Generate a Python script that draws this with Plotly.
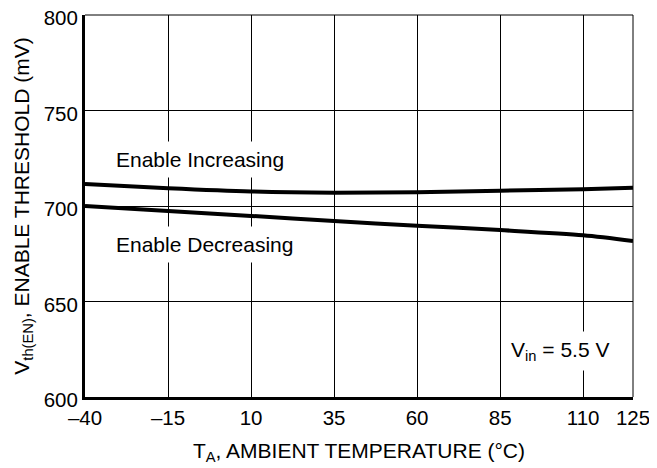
import plotly.graph_objects as go

temps = [-40, -15, 10, 35, 60, 85, 110, 125]
enable_increasing = [711.5, 709.3, 707.6, 707.0, 707.2, 708.0, 708.8, 709.6]
enable_decreasing = [700.0, 697.4, 694.8, 692.1, 689.7, 687.4, 684.7, 681.7]

x_ticks = [-40, -15, 10, 35, 60, 85, 110, 125]
x_ticktext = ["–40", "–15", "10", "35", "60", "85", "110", "125"]
y_ticks = [600, 650, 700, 750, 800]

FONT = "Liberation Sans, Arial, Helvetica, sans-serif"
fs = 21
tfs = 20.5

fig = go.Figure()
for ys in (enable_increasing, enable_decreasing):
    fig.add_trace(go.Scatter(x=temps, y=ys, mode="lines",
                             line=dict(color="black", width=4, shape="spline", smoothing=0.8),
                             showlegend=False, hoverinfo="skip"))

fig.update_layout(
    template="none",
    width=649, height=460,
    margin=dict(l=77, r=24, t=7, b=71, autoexpand=False),
    paper_bgcolor="white", plot_bgcolor="white",
    font=dict(family=FONT, size=fs, color="black"),
    xaxis=dict(range=[-40, 125], tickvals=x_ticks, ticktext=x_ticktext,
               showgrid=True, gridcolor="black", gridwidth=1,
               showline=True, linecolor="black", linewidth=3,
               ticks="", zeroline=False, tickfont=dict(size=tfs), automargin=False,
               ticklabeloverflow="allow",
               title=dict(text="T<sub>A</sub>, AMBIENT TEMPERATURE (°C)",
                          font=dict(size=fs), standoff=16)),
    yaxis=dict(range=[600, 800], tickvals=y_ticks,
               showgrid=True, gridcolor="black", gridwidth=1,
               showline=True, linecolor="black", linewidth=3,
               ticks="", zeroline=False, tickfont=dict(size=tfs), automargin=False,
               ticklabeloverflow="allow", ticklabelshift=3,
               title=dict(text="V<sub>th(EN)</sub>, ENABLE THRESHOLD (mV)",
                          font=dict(size=fs), standoff=9)),
)

# thin top and right frame
fig.add_shape(type="line", xref="paper", yref="paper", x0=0, x1=1, y0=1, y1=1,
              line=dict(color="black", width=1))
fig.add_shape(type="line", xref="paper", yref="paper", x0=1, x1=1, y0=0, y1=1,
              line=dict(color="black", width=1))

ann = dict(showarrow=False, bgcolor="white", borderpad=6, font=dict(size=fs, family=FONT))
fig.add_annotation(x=-5.5, y=724.5, text="Enable Increasing", **ann)
fig.add_annotation(x=-4, y=680, text="Enable Decreasing", **ann)
fig.add_annotation(x=103, y=624, text="V<sub>in</sub> = 5.5 V", **ann)

fig.write_html("out.html")
